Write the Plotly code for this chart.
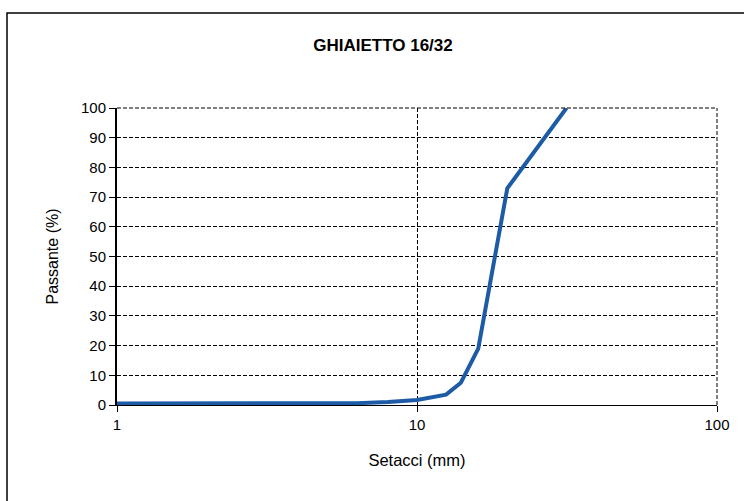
import plotly.graph_objects as go

sieves_mm = [1, 2, 4, 6.3, 8, 10, 12.5, 14, 16, 20, 31.5]
passing_pct = [0.5, 0.5, 0.5, 0.6, 1.0, 1.7, 3.5, 7.5, 19, 73, 100]
y_ticks = list(range(0, 101, 10))
x_ticks = [1, 10, 100]
title_text = "GHIAIETTO 16/32"
x_title = "Setacci (mm)"
y_title = "Passante (%)"

font_family = "Arial, Liberation Sans, sans-serif"
W, H = 744, 501
L, R, T, B = 117, 27, 108, 96
PW, PH = W - L - R, H - T - B

fig = go.Figure()
fig.add_trace(go.Scatter(
    x=sieves_mm, y=passing_pct, mode="lines",
    line=dict(color="#1d5ba6", width=4),
    showlegend=False, hoverinfo="x+y",
))

fig.update_layout(
    width=W, height=H,
    margin=dict(l=L, r=R, t=T, b=B),
    paper_bgcolor="white", plot_bgcolor="white",
    font=dict(family=font_family, size=15, color="black"),
    title=dict(text="<b>" + title_text + "</b>", x=(383 - L) / PW, xref="paper",
               xanchor="center", y=1 - 45 / H, yanchor="middle",
               font=dict(size=17, family=font_family, color="black")),
    showlegend=False,
)

grid_dash = "4px,2px"
fig.update_xaxes(
    type="log", range=[0, 2], tickvals=x_ticks, ticktext=[str(v) for v in x_ticks],
    showgrid=True, gridcolor="black", gridwidth=1, griddash=grid_dash,
    showline=True, linecolor="black", linewidth=1, mirror=False,
    ticks="outside", ticklen=6, tickcolor="black",
    tickfont=dict(size=15),
    title=dict(text=x_title, standoff=22, font=dict(size=16.5)),
    zeroline=False,
)
fig.update_yaxes(
    range=[0, 100], tickvals=y_ticks,
    showgrid=True, gridcolor="black", gridwidth=1, griddash=grid_dash,
    showline=True, linecolor="black", linewidth=2,
    ticks="outside", ticklen=6, tickcolor="black",
    tickfont=dict(size=15),
    title=dict(text=y_title, standoff=18, font=dict(size=16)),
    zeroline=False,
)

# dashed border lines at the top (100 %) and right (100 mm) of the plot area
fig.add_shape(type="line", xref="paper", yref="paper", x0=0, x1=1, y0=1, y1=1,
              line=dict(color="black", width=1, dash=grid_dash))
fig.add_shape(type="line", xref="paper", yref="paper", x0=1, x1=1, y0=0, y1=1,
              line=dict(color="black", width=1, dash=grid_dash))

# outer frame of the chart
fig.add_shape(type="rect", xref="paper", yref="paper",
              x0=(7 - L) / PW, x1=(760 - L) / PW,
              y0=(H - B - 520) / PH, y1=(H - B - 13) / PH,
              line=dict(color="black", width=1.5), fillcolor="rgba(0,0,0,0)", layer="below")

fig.write_html("out.html", config={"displayModeBar": False},
               post_script="document.body.style.margin='0';")
